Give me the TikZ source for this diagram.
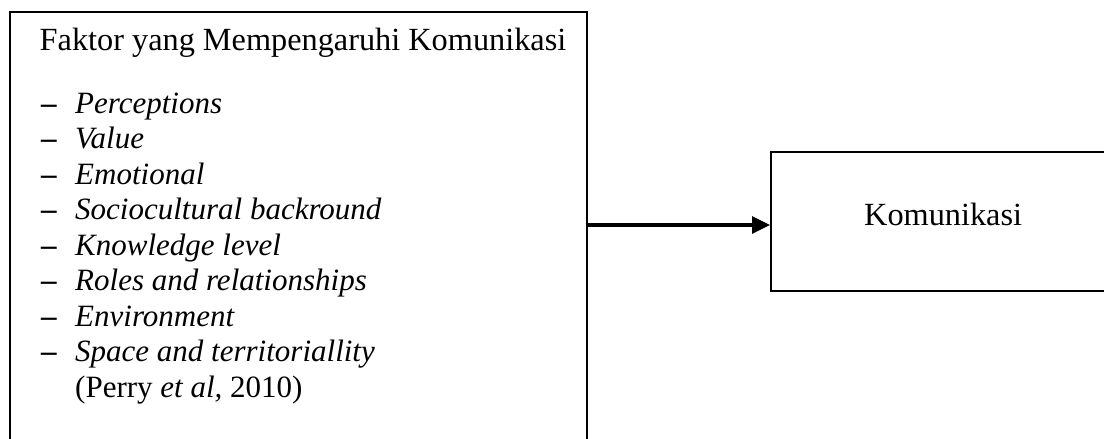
\documentclass[tikz,border=0pt]{standalone}
\usepackage{fontspec}
\setmainfont{Liberation Serif}
\usetikzlibrary{arrows.meta}
\begin{document}
\begin{tikzpicture}[x=1pt,y=-1pt,
  box/.style={draw=black,line width=2pt,rectangle,inner sep=0pt},
  txt/.style={inner sep=0pt,font=\fontsize{31}{37}\selectfont},
  big/.style={inner sep=0pt,font=\fontsize{32.3}{38}\selectfont},
  itm/.style={txt,anchor=base west},
  dsh/.style={inner sep=0pt,anchor=base west,font=\fontsize{31}{37}\selectfont\bfseries},
  conn/.style={line width=3.2pt,-{Triangle[length=18pt,width=17pt]}}]
\useasboundingbox (0,0) rectangle (1104,439);
\node[box,anchor=north west,minimum width=577pt,minimum height=470pt] (faktor) at (9,11) {};
\node[box,anchor=north west,minimum width=400pt,minimum height=139pt] (kom) at (770,151) {};
\node[big,anchor=base] (title) at (303,50) {Faktor yang Mempengaruhi Komunikasi};
\foreach \t [count=\i from 0] in {Perceptions,Value,Emotional,Sociocultural backround,Knowledge level,Roles and relationships,Environment,Space and territoriallity}{
  \node[dsh] (d\i) at (41,{113+\i*35.5}) {–};
  \node[itm] (i\i) at (75,{113+\i*35.5}) {\itshape \t};
}
\node[itm] (src) at (75,{113+8*35.5}) {(Perry \textit{et al,} 2010)};
\node[big,anchor=base west] (komt) at (864,225) {Komunikasi};
\coordinate (ay) at (0,225);
\draw[conn] (faktor.east |- ay) -- (kom.west |- ay);
\end{tikzpicture}
\end{document}
